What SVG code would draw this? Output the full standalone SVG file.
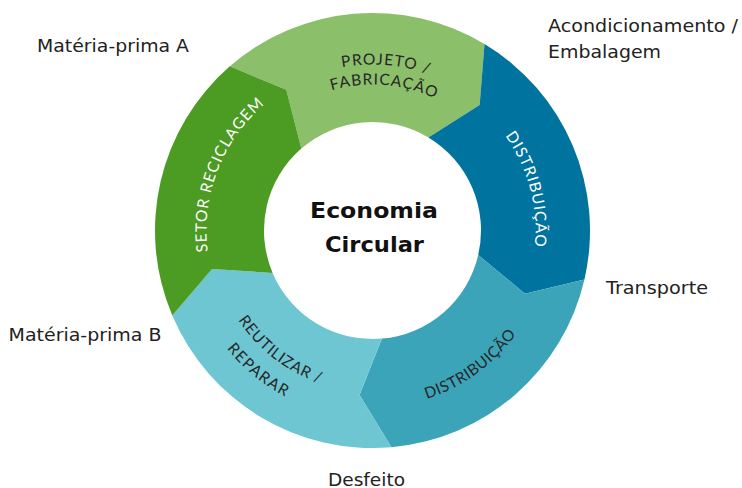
<svg xmlns="http://www.w3.org/2000/svg" width="742" height="488" viewBox="0 0 742 488">
  <style>
    .seg-label { font-family: "Lato", "DejaVu Sans", sans-serif; font-size: 15.5px; font-weight: 400; }
    .dark { fill: #262626; }
    .light { fill: #ffffff; }
    .ext { font-family: "DejaVu Sans", "Noto Sans", sans-serif; font-size: 17px; fill: #222222; }
    .center { font-family: "DejaVu Sans", "Noto Sans", sans-serif; font-size: 21px; font-weight: bold; fill: #111111; }
  </style>
  <defs>
    <path id="p-projeto" d="M235.70,136.48 A166,166 0 0 1 522.33,159.04"/>
    <path id="p-fabricacao" d="M252.18,147.81 A146,146 0 0 1 504.28,167.65"/>
    <path id="p-dist1" d="M414.69,73.05 A163,163 0 0 1 487.76,345.76"/>
    <path id="p-dist2" d="M300.51,392.19 A177,177 0 0 0 548.53,212.00"/>
    <path id="p-setor" d="M243.50,334.96 A166,166 0 0 1 346.54,66.54"/>
    <path id="p-reutilizar" d="M212.45,208.86 A161.5,161.5 0 0 0 433.79,379.92"/>
    <path id="p-reparar" d="M187.51,199.88 A187.5,187.5 0 0 0 438.46,406.02"/>
  </defs>
  <rect x="0" y="0" width="742" height="488" fill="#ffffff"/>

  <g id="projeto-fabricacao">
    <path d="M229.80,66.35 A217.5,217.5 0 0 1 484.51,44.06 L479.65,105.03 L428.38,137.49 A108.5,108.5 0 0 0 301.31,148.62 L286.29,89.82 Z" fill="#8cbf6a"/>
    <text class="seg-label dark"><textPath href="#p-projeto" startOffset="50%" text-anchor="middle" textLength="87" lengthAdjust="spacing">PROJETO /</textPath></text>
    <text class="seg-label dark"><textPath href="#p-fabricacao" startOffset="50%" text-anchor="middle" textLength="106" lengthAdjust="spacing">FABRICAÇÃO</textPath></text>
  </g>

  <g id="distribuicao-1">
    <path d="M484.51,44.06 A217.5,217.5 0 0 1 584.43,279.44 L524.94,293.64 L478.22,254.91 A108.5,108.5 0 0 0 428.38,137.49 L479.65,105.03 Z" fill="#00739e"/>
    <text class="seg-label light"><textPath href="#p-dist1" startOffset="50%" text-anchor="middle" textLength="117" lengthAdjust="spacing">DISTRIBUIÇÃO</textPath></text>
  </g>

  <g id="distribuicao-2">
    <path d="M584.43,279.44 A217.5,217.5 0 0 1 391.46,447.17 L359.55,394.99 L381.96,338.59 A108.5,108.5 0 0 0 478.22,254.91 L524.94,293.64 Z" fill="#3ba4b8"/>
    <text class="seg-label dark"><textPath href="#p-dist2" startOffset="50%" text-anchor="middle" textLength="112" lengthAdjust="spacing">DISTRIBUIÇÃO</textPath></text>
  </g>

  <g id="reutilizar-reparar">
    <path d="M391.46,447.17 A217.5,217.5 0 0 1 172.29,315.48 L212.05,269.01 L272.63,272.89 A108.5,108.5 0 0 0 381.96,338.59 L359.55,394.99 Z" fill="#6ec6d3"/>
    <text class="seg-label dark"><textPath href="#p-reutilizar" startOffset="50%" text-anchor="middle" textLength="105" lengthAdjust="spacing">REUTILIZAR /</textPath></text>
    <text class="seg-label dark"><textPath href="#p-reparar" startOffset="50%" text-anchor="middle" textLength="76" lengthAdjust="spacing">REPARAR</textPath></text>
  </g>

  <g id="setor-reciclagem">
    <path d="M172.29,315.48 A217.5,217.5 0 0 1 229.80,66.35 L286.29,89.82 L301.31,148.62 A108.5,108.5 0 0 0 272.63,272.89 L212.05,269.01 Z" fill="#4c9b22"/>
    <text class="seg-label light"><textPath href="#p-setor" startOffset="50%" text-anchor="middle" textLength="164" lengthAdjust="spacing">SETOR RECICLAGEM</textPath></text>
  </g>

  <g id="centro">
    <text class="center" x="374" y="218" text-anchor="middle" textLength="128" lengthAdjust="spacingAndGlyphs">Economia</text>
    <text class="center" x="374.5" y="252" text-anchor="middle" textLength="99" lengthAdjust="spacingAndGlyphs">Circular</text>
  </g>

  <g id="materia-prima-a">
    <text class="ext" x="37" y="52" textLength="152" lengthAdjust="spacingAndGlyphs">Matéria-prima A</text>
  </g>
  <g id="acondicionamento">
    <text class="ext" x="548" y="31.5" textLength="190" lengthAdjust="spacingAndGlyphs">Acondicionamento /</text>
    <text class="ext" x="548" y="58" textLength="113" lengthAdjust="spacingAndGlyphs">Embalagem</text>
  </g>
  <g id="transporte">
    <text class="ext" x="606" y="294" textLength="102" lengthAdjust="spacingAndGlyphs">Transporte</text>
  </g>
  <g id="materia-prima-b">
    <text class="ext" x="8.5" y="340.5" textLength="153" lengthAdjust="spacingAndGlyphs">Matéria-prima B</text>
  </g>
  <g id="desfeito">
    <text class="ext" x="328" y="486" textLength="77" lengthAdjust="spacingAndGlyphs">Desfeito</text>
  </g>
</svg>
